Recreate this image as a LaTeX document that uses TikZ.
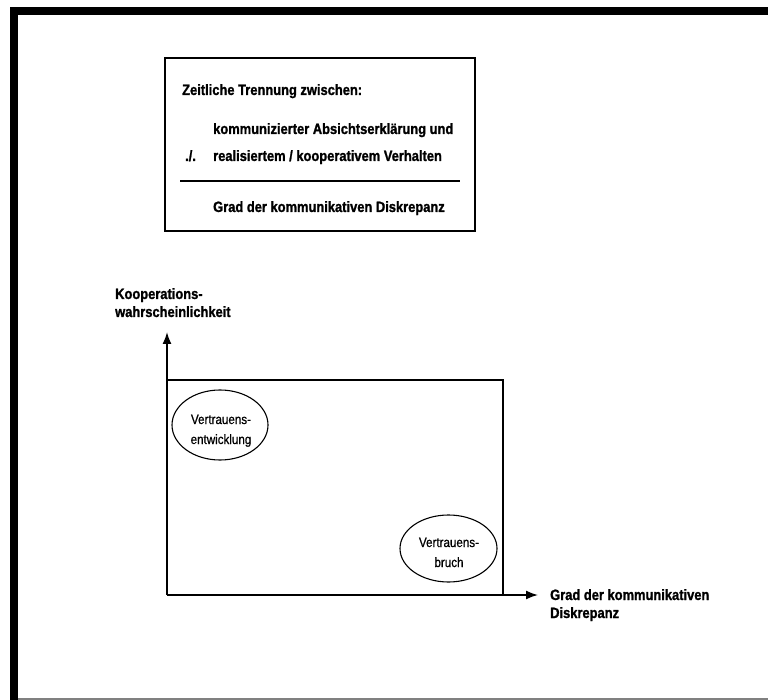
\documentclass[tikz,border=0pt]{standalone}
\usepackage{fontspec}
\setmainfont{Liberation Sans}[FakeStretch=0.86, BoldFeatures={FakeBold=1.3}]
\newfontfamily\ovalfont{Liberation Sans}[FakeStretch=0.86, FakeBold=0.8]
\usetikzlibrary{arrows.meta,shapes.geometric}
\tikzset{
  boldtxt/.style={font=\bfseries\fontsize{15}{18}\selectfont, inner sep=0pt},
  ovaltxt/.style={font=\ovalfont\fontsize{13.5}{16}\selectfont, inner sep=0pt, align=center},
  oval/.style={draw, ellipse, line width=1.1pt, inner sep=0pt},
  axis/.style={line width=1.6pt, -{Latex[length=12pt,width=9pt]}},
  thin/.style={line width=1.3pt}
}
\begin{document}
\begin{tikzpicture}[x=1pt,y=-1pt]
\useasboundingbox (0,0) rectangle (768,700);
% page frame
\fill (10,7) rectangle (768,15);
\fill (10,7) rectangle (18,700);
\draw[gray, line width=1.5pt] (18,699.2) -- (768,699.2);

% definition box
\node[draw, thin, minimum width=310pt, minimum height=173pt, inner sep=0pt] (defbox) at (320,144.5) {};
\node[boldtxt, anchor=base west] (title) at (182,95) {Zeitliche Trennung zwischen:};
\node[boldtxt, anchor=base west] (num) at (213,134) {kommunizierter Absichtserklärung und};
\node[boldtxt, anchor=base west] (div) at (185,161) {./.};
\node[boldtxt, anchor=base west] (den) at (213,161) {realisiertem / kooperativem Verhalten};
\coordinate (fracL) at (180,181);
\coordinate (fracR) at (460,181);
\draw[thin] (fracL) -- (fracR);
\node[boldtxt, anchor=base west] (res) at (213,212) {Grad der kommunikativen Diskrepanz};

% axes
\coordinate (origin) at (167,595);
\coordinate (ytip) at (167,332);
\coordinate (xtip) at (538,595);
\draw[axis] (origin) -- (ytip);
\draw[axis] (origin) -- (xtip);
\node[boldtxt, anchor=base west] (ylab1) at (115,299) {Kooperations-};
\node[boldtxt, anchor=base west] (ylab2) at (115,317) {wahrscheinlichkeit};
\node[boldtxt, anchor=base west] (xlab1) at (550,600) {Grad der kommunikativen};
\node[boldtxt, anchor=base west] (xlab2) at (550,618) {Diskrepanz};

% region
\coordinate (rtl) at (167,380);
\coordinate (rtr) at (503,380);
\coordinate (rbr) at (503,595);
\draw[thin] (rtl) -- (rtr) -- (rbr);

% ovals
\node[oval, minimum width=96pt, minimum height=70pt] (dev) at (220,425) {};
\node[ovaltxt, anchor=base] (dev1) at (221,424) {Vertrauens-};
\node[ovaltxt, anchor=base] (dev2) at (221,444) {entwicklung};
\node[oval, minimum width=97pt, minimum height=67pt] (brk) at (448.5,548.5) {};
\node[ovaltxt, anchor=base] (brk1) at (449,547) {Vertrauens-};
\node[ovaltxt, anchor=base] (brk2) at (449,567) {bruch};
\end{tikzpicture}
\end{document}
